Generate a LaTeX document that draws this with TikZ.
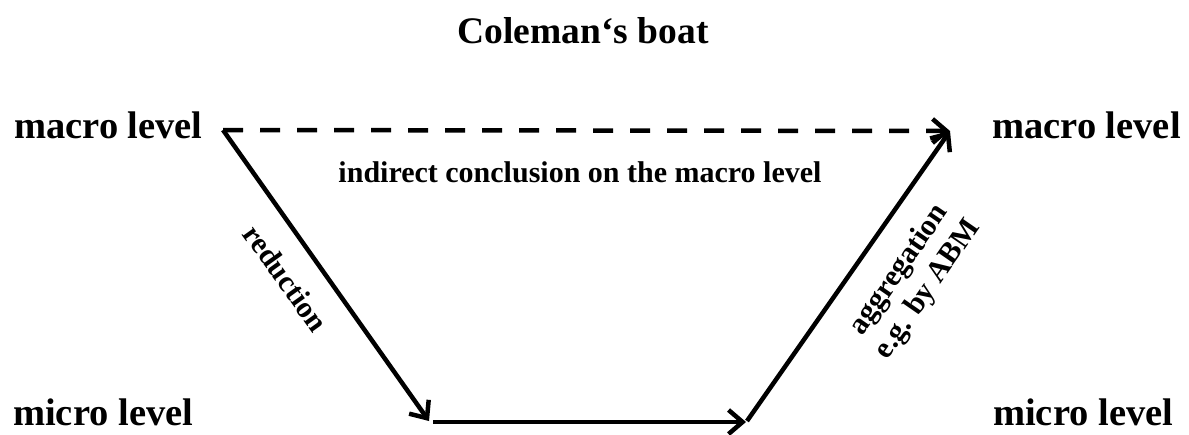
\documentclass[tikz,border=0pt]{standalone}
\usepackage{fontspec}
\setmainfont{Liberation Serif}
\usetikzlibrary{arrows.meta}
\tikzset{
  lvl/.style={font=\fontsize{38.5}{40}\selectfont\bfseries, inner sep=0pt, anchor=base west},
  lbl/.style={font=\fontsize{30}{35}\selectfont\bfseries, inner sep=0pt},
  ttl/.style={font=\fontsize{37.5}{40}\selectfont\bfseries, inner sep=0pt, anchor=base},
  conn/.style={line width=4.5pt, -{Straight Barb[length=14pt, width=24pt, line width=4.5pt]}},
  dconn/.style={conn, dash pattern=on 20pt off 17pt}
}
\begin{document}
\begin{tikzpicture}[x=1pt, y=-1pt]
\useasboundingbox (0,0) rectangle (1189,434);
% title
\node[ttl] (title) at (583,43) {Coleman‘s boat};
% level labels
\node[lvl] (macroL) at (14,138) {macro level};
\node[lvl] (macroR) at (992,138) {macro level};
\node[lvl] (microL) at (13,425) {micro level};
\node[lvl] (microR) at (993,425) {micro level};
% connector points
\coordinate (A) at (223,130);
\coordinate (B1) at (429,421);
\coordinate (B2) at (433,422);
\coordinate (C1) at (746,422);
\coordinate (C2) at (747,421);
\coordinate (D) at (950,131);
% connectors
\draw[dconn] (A) -- (D);
\draw[conn] (A) -- (B1);
\draw[conn] (B2) -- (C1);
\draw[conn] (C2) -- (D);
% connector labels
\node[lbl, anchor=base] (indirect) at (580,182) {indirect conclusion on the macro level};
\node[lbl, rotate=-54.4] (reduction) at (286,278) {reduction};
\node[lbl, rotate=55.3, align=center] (aggr) at (914,280) {aggregation\\e.g. by ABM};
\end{tikzpicture}
\end{document}
